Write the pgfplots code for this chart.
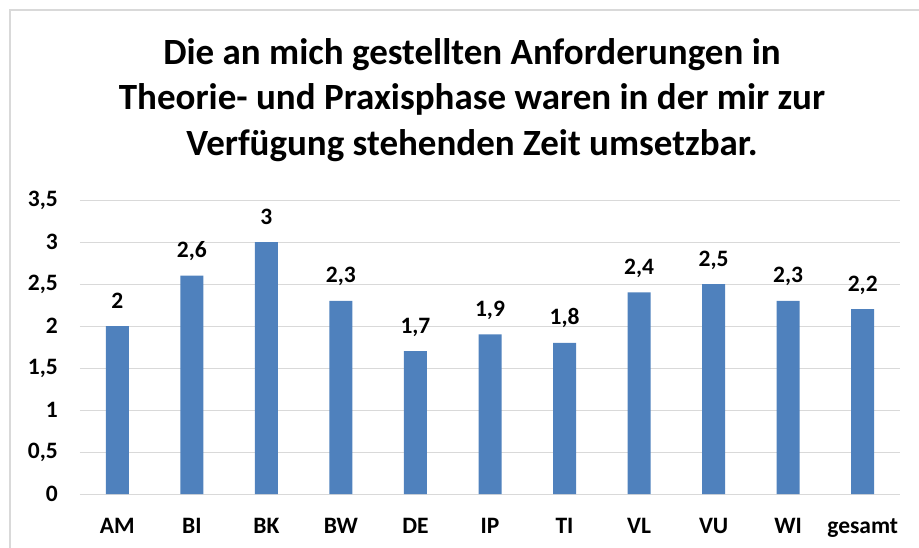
\documentclass[border=0pt]{standalone}
\usepackage{pgfplots}
\pgfplotsset{compat=1.18}
\usepackage{fontspec}
\setmainfont{Carlito}
\definecolor{barblue}{HTML}{4F81BD}
\definecolor{gridgray}{HTML}{D9D9D9}
\begin{document}
\begin{tikzpicture}[x=1pt,y=1pt]
\path[use as bounding box] (0,0) rectangle (919,547);
\draw[gridgray, line width=1.5pt] (10,-2) -- (10,537) -- (921,537);
\begin{scope}[every node/.style={font=\bfseries\fontsize{37}{45}\selectfont, anchor=base, inner sep=0pt}]
\node at (472,482) {Die an mich gestellten Anforderungen in};
\node at (472,437) {Theorie- und Praxisphase waren in der mir zur};
\node at (472,391) {Verfügung stehenden Zeit umsetzbar.};
\end{scope}
\begin{axis}[at={(80pt,53pt)}, anchor=south west, scale only axis, width=820pt, height=294pt,
  xmin=-0.5, xmax=10.5, ymin=0, ymax=3.5, ytick={0,0.5,1,1.5,2,2.5,3,3.5},
  xtick=data, xticklabels={AM,BI,BK,BW,DE,IP,TI,VL,VU,WI,gesamt},
  ymajorgrids, grid style={gridgray, line width=1pt}, axis line style={draw=none}, major tick length=0pt,
  ybar, bar width=23pt, clip=false,
  tick label style={font=\bfseries\fontsize{23.5}{24}\selectfont, inner sep=0pt},
  yticklabel style={anchor=east, xshift=-22pt},
  xticklabel style={anchor=base, yshift=-39pt},
  /pgf/number format/.cd, use comma, assume math mode=true, /pgfplots/.cd,
  nodes near coords,
  nodes near coords style={font=\bfseries\fontsize{23.5}{24}\selectfont, anchor=base, yshift=18pt, inner sep=0pt, text=black},
]
\addplot[fill=barblue, draw=none] coordinates {(0,2) (1,2.6) (2,3) (3,2.3) (4,1.7) (5,1.9) (6,1.8) (7,2.4) (8,2.5) (9,2.3) (10,2.2)};
\end{axis}
\end{tikzpicture}
\end{document}
